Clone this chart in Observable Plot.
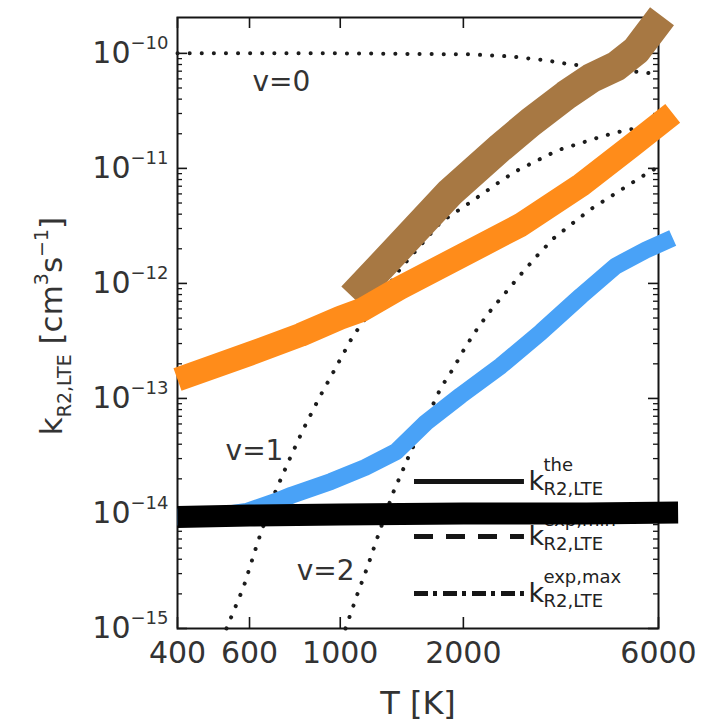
<!DOCTYPE html>
<html>
<head>
<meta charset="utf-8">
<script src="https://cdn.jsdelivr.net/npm/d3@7"></script>
<script src="https://cdn.jsdelivr.net/npm/@observablehq/plot@0.6"></script>
<style>
  html, body { margin: 0; padding: 0; background: #fff; }
  #chart { width: 706px; height: 721px; }
</style>
</head>
<body>
<div id="chart"></div>
<script>
// ---------- data ----------
const xTicks = [400, 600, 1000, 2000, 6000];
const yMajor = [1e-15, 1e-14, 1e-13, 1e-12, 1e-11, 1e-10];

// thick orange curve
const orangeT = [400, 600, 800, 1000, 1130, 1400, 2000, 2760, 3880, 5140, 6500];
const orangeK = [1.46e-13, 2.44e-13, 3.57e-13, 5.03e-13, 5.89e-13, 9.14e-13, 1.77e-12, 3.22e-12, 7.16e-12, 1.56e-11, 3.01e-11];

// thick brown curve
const brownT = [1070, 1400, 1860, 2470, 2920, 3560, 4100, 4720, 5290, 6120];
const brownK = [7.64e-13, 2.11e-12, 6.22e-12, 1.53e-11, 2.52e-11, 4.32e-11, 6.07e-11, 7.70e-11, 1.06e-10, 2.10e-10];

// thick blue curve
const blueT = [400, 480, 590, 700, 760, 950, 1150, 1370, 1620, 1970, 2470, 3100, 3880, 4720, 5590, 6500];
const blueK = [9.3e-15, 9.4e-15, 1.04e-14, 1.28e-14, 1.44e-14, 1.90e-14, 2.51e-14, 3.45e-14, 6.16e-14, 1.06e-13, 1.92e-13, 3.79e-13, 7.80e-13, 1.42e-12, 1.95e-12, 2.48e-12];

// thick black band
const blackT = [400, 600, 1000, 2000, 4000, 6700];
const blackK = [9.3e-15, 9.6e-15, 9.8e-15, 1.0e-14, 1.0e-14, 1.02e-14];

// dotted curves v=0, v=1, v=2
const v0T = [400, 1000, 2085, 2610, 3180, 3670, 4340, 5140, 6000];
const v0K = [1.0e-10, 1.0e-10, 9.8e-11, 9.4e-11, 8.7e-11, 8.0e-11, 7.6e-11, 7.0e-11, 6.6e-11];

const v1T = [527, 580, 628, 691, 747, 809, 886, 975, 1072, 1406, 1762, 2051, 2170, 2428, 2688, 3043, 3406, 3877, 4390, 4996, 6000];
const v1K = [1.0e-15, 2.28e-15, 5.6e-15, 1.49e-14, 2.83e-14, 5.25e-14, 9.95e-14, 1.85e-13, 3.44e-13, 1.36e-12, 3.42e-12, 4.90e-12, 5.64e-12, 7.45e-12, 9.46e-12, 1.18e-11, 1.44e-11, 1.66e-11, 1.91e-11, 2.15e-11, 2.42e-11];

const v2T = [1030, 1103, 1167, 1221, 1344, 1414, 1487, 1539, 1646, 1762, 1895, 2017, 2170, 2348, 2570, 2781, 3043, 3330, 3706, 4102, 4566, 5111, 5689, 6000];
const v2K = [1.0e-15, 2.02e-15, 3.47e-15, 5.6e-15, 1.49e-14, 2.27e-14, 3.45e-14, 4.39e-14, 7.38e-14, 1.24e-13, 1.85e-13, 2.75e-13, 4.11e-13, 6.01e-13, 8.79e-13, 1.23e-12, 1.77e-12, 2.48e-12, 3.35e-12, 4.43e-12, 5.64e-12, 7.30e-12, 9.27e-12, 1.03e-11];

// curve labels
const vLabels = ["v=0", "v=1", "v=2"];
const vLabelT = [718, 617, 921];
const vLabelK = [5.6e-11, 3.46e-14, 3.13e-15];

// legend
const legendSup = ["the", "exp,min", "exp,max"];
const legendSub = "R2,LTE";
const legendK = [1.90e-14, 6.3e-15, 2.01e-15];
const legendT = [1519, 2821];

const xTitle = "T [K]";
const yTitle = "k_{R2,LTE} [cm^{3}s^{\u22121}]";

// ---------- build ----------
const rows = (T, K) => T.map((t, i) => ({T: t, k: K[i]}));
const W = 706, H = 721, mL = 177, mR = 48, mT = 17, mB = 93;
const fw = W - mL - mR, fh = H - mT - mB;
const yMinor = d3.scaleLog().domain([1e-15, 1e-10]).ticks().filter(v => !yMajor.some(m => Math.abs(m - v) / m < 1e-6));

const ink = "#151515";
const dotted = {x: "T", y: "k", stroke: "#1c1c1c", strokeWidth: 4, strokeDasharray: "0.1 12", strokeLinecap: "round"};
const thick = (w, c) => ({x: "T", y: "k", stroke: c, strokeWidth: w, strokeLinecap: "butt", strokeLinejoin: "round"});

const legendMarks = [];
[null, "19,13", "14,5,4,6"].forEach((dash, i) => {
  legendMarks.push(Plot.ruleY([legendK[i]], {y: d => d, x1: legendT[0], x2: legendT[1], stroke: ink, strokeWidth: 5, strokeDasharray: dash, strokeLinecap: "butt"}));
  legendMarks.push(Plot.text([legendK[i]], {x: legendT[1], y: d => d, text: () => "k", dx: 4, textAnchor: "start", fontSize: 27, fill: "#222"}));
  legendMarks.push(Plot.text([legendK[i]], {x: legendT[1], y: d => d, text: () => legendSup[i], dx: 19, dy: -16, textAnchor: "start", fontSize: 18, fill: "#222"}));
  legendMarks.push(Plot.text([legendK[i]], {x: legendT[1], y: d => d, text: () => legendSub, dx: 19, dy: 8, textAnchor: "start", fontSize: 18, fill: "#222"}));
});

const plot = Plot.plot({
  width: W, height: H,
  marginLeft: mL, marginRight: mR, marginTop: mT, marginBottom: mB,
  style: {fontFamily: "DejaVu Sans", fontSize: "30px", color: "#333", background: "white", overflow: "visible"},
  x: {type: "log", domain: [400, 6000], ticks: xTicks, tickFormat: d => String(d), tickSize: 0, tickPadding: 13, label: null},
  y: {type: "log", domain: [1e-15, 2.05e-10], ticks: yMajor, tickFormat: d => `10^{\u2212${-Math.round(Math.log10(d))}}`, tickSize: 0, tickPadding: 9, label: null},
  marks: [
    Plot.tickY(yMinor, {y: d => d, insetRight: fw - 5, stroke: ink, strokeWidth: 1.3}),
    Plot.tickY(yMinor, {y: d => d, insetLeft: fw - 5, stroke: ink, strokeWidth: 1.3}),
    Plot.tickY(yMajor, {y: d => d, insetRight: fw - 10, stroke: ink, strokeWidth: 1.6}),
    Plot.tickY(yMajor, {y: d => d, insetLeft: fw - 10, stroke: ink, strokeWidth: 1.6}),
    Plot.tickX(xTicks, {x: d => d, insetBottom: fh - 11, stroke: ink, strokeWidth: 1.6}),
    Plot.tickX(xTicks, {x: d => d, insetTop: fh - 11, stroke: ink, strokeWidth: 1.6}),
    Plot.frame({stroke: ink, strokeWidth: 2}),
    Plot.line(rows(v0T, v0K), dotted),
    Plot.line(rows(v1T, v1K), dotted),
    Plot.line(rows(v2T, v2K), dotted),
    Plot.text(vLabels, {x: (d, i) => vLabelT[i], y: (d, i) => vLabelK[i], text: d => d, fontSize: 28, fill: "#333"}),
    ...legendMarks,
    Plot.line(rows(brownT, brownK), thick(30, "#a77843")),
    Plot.line(rows(orangeT, orangeK), thick(24, "#ff8c1a")),
    Plot.line(rows(blueT, blueK), thick(17, "#49a2f7")),
    Plot.line(rows(blackT, blackK), thick(22, "#000")),
    Plot.text([xTitle], {text: d => d, frameAnchor: "bottom", textAnchor: "middle", dy: 85, fontSize: 32, fill: "#333"}),
    Plot.text([yTitle], {text: d => d, frameAnchor: "left", textAnchor: "middle", dx: -125, dy: 3, rotate: -90, fontSize: 31, fill: "#333"})
  ]
});
document.getElementById("chart").appendChild(plot);

// ---------- turn ^{..} / _{..} markup into real super/subscripts ----------
function richify(el) {
  const s = el.textContent;
  if (!/[\^_]\{/.test(s)) return;
  const main = parseFloat(getComputedStyle(el).fontSize) || 30;
  const small = Math.round(main * 0.6);
  const re = /([\^_])\{([^}]*)\}|([^\^_]+)/g;
  el.textContent = "";
  let cur = 0, m;
  while ((m = re.exec(s))) {
    const ts = document.createElementNS("http://www.w3.org/2000/svg", "tspan");
    let target = 0, size = main, txt = m[3];
    if (m[1] === "^") { target = -0.48 * main; size = small; txt = m[2]; }
    else if (m[1] === "_") { target = 0.28 * main; size = small; txt = m[2]; }
    const delta = target - cur;
    if (Math.abs(delta) > 0.01) ts.setAttribute("dy", delta.toFixed(2));
    cur = target;
    ts.setAttribute("font-size", size);
    ts.textContent = txt;
    el.appendChild(ts);
  }
}
plot.querySelectorAll("text").forEach(richify);
</script>
</body>
</html>
